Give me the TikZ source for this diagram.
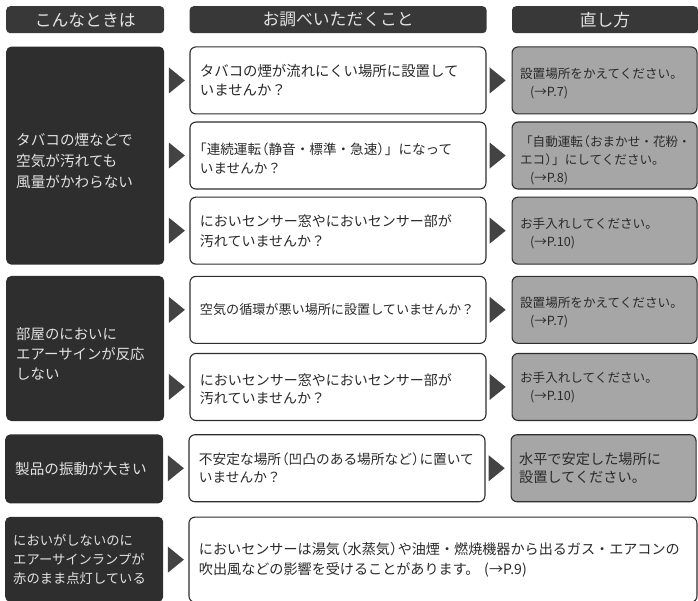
\documentclass[tikz,border=0pt]{standalone}
\usepackage{fontspec}
\setmainfont{Noto Sans CJK JP}
\usetikzlibrary{%
   positioning,%
   shapes.geometric%
}
\definecolor{boxdark}{HTML}{2E2E2E}
\definecolor{boxgray}{HTML}{A6A6A6}
\definecolor{textlight}{HTML}{E2E2E2}
\definecolor{textdark}{HTML}{2A2A2A}
% tight brackets and a lowered first line
\newcommand{\lpar}{\hspace*{-.45em}（}
\newcommand{\rpar}{）\hspace*{-.45em}}
\newcommand{\downby}[1]{\rule{0pt}{#1}}

\begin{document}
\begin{tikzpicture}[x=1pt,y=-1pt,
	headbox/.style={
	rectangle,rounded corners=4pt,
	minimum height=27pt,inner sep=0pt,
	fill=boxdark!95!white,text=textlight,
	font=\fontsize{16.8}{18}\selectfont
	},casebox/.style={
	rectangle,rounded corners=5pt,
	text width=138pt,inner xsep=10pt,inner ysep=0pt,
	fill=boxdark,text=textlight,align=left,
	font=\fontsize{14.6}{21}\selectfont
	},checkbox/.style={
	rectangle,rounded corners=6pt,
	draw=boxdark,line width=1.1pt,fill=white,
	text width=276pt,inner xsep=10pt,inner ysep=0pt,minimum height=67pt,
	text=textdark,align=left,
	font=\fontsize{14.4}{19}\selectfont
	},fixbox/.style={
	rectangle,rounded corners=6pt,
	draw=boxdark,line width=1.1pt,fill=boxgray,
	text width=169pt,inner xsep=8pt,inner ysep=0pt,minimum height=67pt,
	text=textdark,align=left,
	font=\fontsize{12.6}{18}\selectfont
	},pointer/.style={
	isosceles triangle,isosceles triangle stretches,
	shape border rotate=0,
	minimum width=26pt,minimum height=16pt,inner sep=0pt,
	fill=boxdark!90!white
	}
]
\useasboundingbox (0,0) rectangle (698,601);

% column heads
\node (head1) [headbox,anchor=north west,minimum width=158pt] at (6,6) {こんなときは};
\node (head2) [headbox,right=25pt of head1,minimum width=297pt] {お調べいただくこと};
\node (head3) [headbox,right=25pt of head2,minimum width=186pt] {直し方};

% left column
\node (case1) [casebox,below=13pt of head1,minimum height=218pt] {\downby{23pt}タバコの煙などで\\空気が汚れても\\風量がかわらない};
\node (case2) [casebox,below=11pt of case1,minimum height=145pt,font=\fontsize{14.4}{20}\selectfont] {\downby{23pt}部屋のにおいに\\エアーサインが反応\\しない};
\node (case3) [casebox,below=13pt of case2,xshift=-1pt,minimum height=69pt] {製品の振動が大きい};
\node (case4) [casebox,below=13pt of case3,minimum height=85pt,inner xsep=8pt,text width=142pt,font=\fontsize{13.3}{19}\selectfont] {においがしないのに\\エアーサインランプが\\赤のまま点灯している};

% middle column
\node (check1) [checkbox,right=25pt of case1.north east,anchor=north west] {タバコの煙が流れにくい場所に設置して\\いませんか？};
\node (check2) [checkbox,below=7pt of check1,font=\fontsize{13.6}{19}\selectfont] {\downby{18pt}\hspace*{-.5em}「連続運転\lpar 静音・標準・急速\rpar 」になって\\いませんか？};
\node (check3) [checkbox,below=7pt of check2,font=\fontsize{14}{20}\selectfont] {においセンサー窓やにおいセンサー部が\\汚れていませんか？};
\node (check4) [checkbox,right=25pt of case2.north east,anchor=north west,font=\fontsize{13.1}{19}\selectfont] {空気の循環が悪い場所に設置していませんか？};
\node (check5) [checkbox,below=9pt of check4,font=\fontsize{14}{18}\selectfont] {\downby{17pt}においセンサー窓やにおいセンサー部が\\汚れていませんか？};
\node (check6) [checkbox,right=25pt of case3.north east,anchor=north west,font=\fontsize{13.7}{18}\selectfont] {不安定な場所\lpar 凹凸のある場所など\rpar に置いて\\いませんか？};
\node (check7) [checkbox,right=25pt of case4.north east,anchor=north west,minimum height=85pt,text width=488pt,font=\fontsize{14.1}{20}\selectfont] {においセンサーは湯気\lpar 水蒸気\rpar や油煙・燃焼機器から出るガス・エアコンの\\吹出風などの影響を受けることがあります。 (→P.9)};

% right column
\node (fix1) [fixbox,right=25pt of check1] {\downby{17pt}設置場所をかえてください。\\\hspace*{10pt}(→P.7)};
\node (fix2) [fixbox,right=25pt of check2] {\downby{20pt}「自動運転\lpar おまかせ・花粉・\\エコ\rpar 」にしてください。\\\hspace*{10pt}(→P.8)};
\node (fix3) [fixbox,right=25pt of check3] {\downby{16pt}お手入れしてください。\\\hspace*{10pt}(→P.10)};
\node (fix4) [fixbox,right=25pt of check4] {\downby{16pt}設置場所をかえてください。\\\hspace*{10pt}(→P.7)};
\node (fix5) [fixbox,right=25pt of check5] {お手入れしてください。\\\hspace*{10pt}(→P.10)};
\node (fix6) [fixbox,right=25pt of check6,font=\fontsize{14.2}{18}\selectfont] {水平で安定した場所に\\設置してください。};

% pointers
\node (in1) [pointer,left=4pt of check1] {};
\node (in2) [pointer,left=4pt of check2] {};
\node (in3) [pointer,left=4pt of check3] {};
\node (in4) [pointer,left=4pt of check4] {};
\node (in5) [pointer,left=4pt of check5] {};
\node (in6) [pointer,left=4pt of check6] {};
\node (in7) [pointer,left=4pt of check7] {};
\node (out1) [pointer,right=3pt of check1] {};
\node (out2) [pointer,right=3pt of check2] {};
\node (out3) [pointer,right=3pt of check3] {};
\node (out4) [pointer,right=3pt of check4] {};
\node (out5) [pointer,right=3pt of check5] {};
\node (out6) [pointer,right=3pt of check6] {};

\end{tikzpicture}
\end{document}
